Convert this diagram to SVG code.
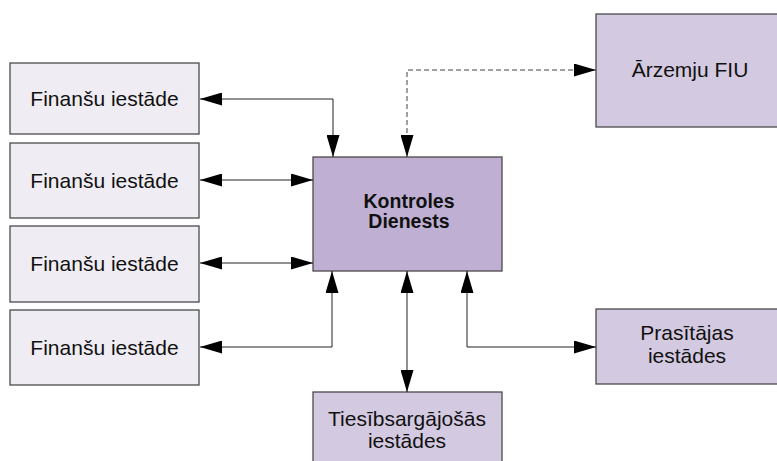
<svg xmlns="http://www.w3.org/2000/svg" width="777" height="461" viewBox="0 0 777 461">
<style>
.box{stroke:#4a4a4a;stroke-width:1.3}
.fin{fill:#efedf3}
.main{fill:#bfb0d3}
.ext{fill:#d3c9e0}
text{font-family:"Liberation Sans",Arial,sans-serif;font-size:21px;fill:#111;text-anchor:middle}
.b{font-weight:bold;font-size:19.5px}
.c{fill:none;stroke:#222;stroke-width:1}
.d{stroke:#444;stroke-dasharray:5 3}
</style>
<defs>
<marker id="ah" markerUnits="userSpaceOnUse" markerWidth="22" markerHeight="13" refX="22" refY="6.5" orient="auto-start-reverse">
<path d="M0,0 L22,6.5 L0,13 z" fill="#000"/>
</marker>
</defs>
<rect width="777" height="461" fill="#fff"/>
<g id="fin1"><rect class="box fin" x="10" y="63" width="189" height="71"/><text x="104.5" y="106">Finanšu iestāde</text></g>
<g id="fin2"><rect class="box fin" x="10" y="143" width="189" height="75"/><text x="104.5" y="188">Finanšu iestāde</text></g>
<g id="fin3"><rect class="box fin" x="10" y="226" width="189" height="76"/><text x="104.5" y="271">Finanšu iestāde</text></g>
<g id="fin4"><rect class="box fin" x="10" y="310" width="189" height="75"/><text x="104.5" y="355">Finanšu iestāde</text></g>
<g id="kd"><rect class="box main" x="313" y="157" width="189" height="114"/><text class="b" x="409" y="208">Kontroles</text><text class="b" x="409" y="228">Dienests</text></g>
<g id="fiu"><rect class="box ext" x="596" y="14" width="182" height="113"/><text x="690" y="77">Ārzemju FIU</text></g>
<g id="pras"><rect class="box ext" x="596" y="309" width="182" height="75"/><text x="687" y="340">Prasītājas</text><text x="687" y="363">iestādes</text></g>
<g id="ties"><rect class="box ext" x="313" y="392" width="189" height="80"/><text x="407" y="426">Tiesībsargājošās</text><text x="407" y="448">iestādes</text></g>
<g id="connectors">
<path class="c" d="M200,99 H333 V157" marker-start="url(#ah)" marker-end="url(#ah)"/>
<path class="c" d="M200,180 H313" marker-start="url(#ah)" marker-end="url(#ah)"/>
<path class="c" d="M200,263 H313" marker-start="url(#ah)" marker-end="url(#ah)"/>
<path class="c" d="M200,347 H332 V271" marker-start="url(#ah)" marker-end="url(#ah)"/>
<path class="c d" d="M407,157 V70 H596" marker-start="url(#ah)" marker-end="url(#ah)"/>
<path class="c" d="M407,271 V392" marker-start="url(#ah)" marker-end="url(#ah)"/>
<path class="c" d="M467,271 V347 H596" marker-start="url(#ah)" marker-end="url(#ah)"/>
</g>
</svg>
